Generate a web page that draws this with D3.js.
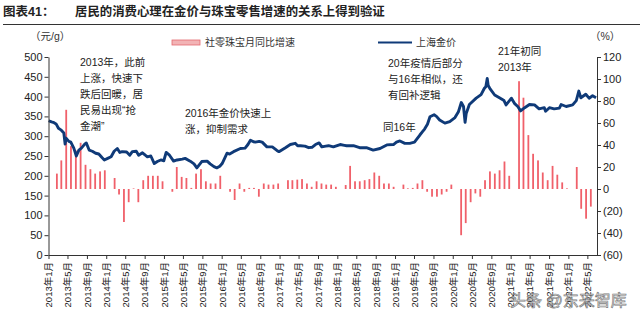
<!DOCTYPE html>
<html><head><meta charset="utf-8">
<script src="https://cdn.jsdelivr.net/npm/d3@7"></script>
<style>
html,body{margin:0;padding:0;background:#fff;}
svg{display:block;}
text{font-family:"Liberation Sans","Noto Sans CJK SC",sans-serif;}
</style></head>
<body>
<svg id="c" width="640" height="322"></svg>
<script>
// ---------- data ----------
const barMonths = [
"2013-02","2013-03","2013-04","2013-05","2013-06","2013-07","2013-08","2013-09","2013-10","2013-11","2013-12",
"2014-02","2014-03","2014-04","2014-05","2014-06","2014-07","2014-08","2014-09","2014-10","2014-11","2014-12",
"2015-02","2015-03","2015-04","2015-05","2015-06","2015-07","2015-08","2015-09","2015-10","2015-11","2015-12",
"2016-02","2016-03","2016-04","2016-05","2016-06","2016-07","2016-08","2016-09","2016-10","2016-11","2016-12",
"2017-02","2017-03","2017-04","2017-05","2017-06","2017-07","2017-08","2017-09","2017-10","2017-11","2017-12",
"2018-02","2018-03","2018-04","2018-05","2018-06","2018-07","2018-08","2018-09","2018-10","2018-11","2018-12",
"2019-02","2019-03","2019-04","2019-05","2019-06","2019-07","2019-08","2019-09","2019-10","2019-11","2019-12",
"2020-02","2020-03","2020-04","2020-05","2020-06","2020-07","2020-08","2020-09","2020-10","2020-11","2020-12",
"2021-02","2021-03","2021-04","2021-05","2021-06","2021-07","2021-08","2021-09","2021-10","2021-11","2021-12",
"2022-02","2022-03","2022-04","2022-05"];
const jewelryYoY = [
14,26,72,39,35,42,22,18,14,16,17,
10,-5,-30,-12,0.5,-12,8,12,12,12,7,
-2.5,20,11,10,1,14,18,7,5,5,12,
-2.5,-10,5,-2.5,1,1,-7,5,4,4,5,
8,8,8.5,9,5,2,7,5,4,4,2,
3.6,21,7,7,8,9,15,12,5,5,2,
4,0.6,1,5,8,-2.5,-7,-7,-5,-2.5,4,
-42,-31,-12,-4,-7,8,16,14,17,25,12,
98,83,49,32,26,15,8,21,13,6,0.6,
20,-18,-27,-16];

const goldDates = [
"2013-01-02","2013-01-20","2013-02-05","2013-02-18","2013-03-05","2013-03-20","2013-04-08","2013-04-16","2013-04-22","2013-05-10","2013-05-22","2013-06-10","2013-06-26","2013-07-12","2013-07-28","2013-08-18","2013-08-28","2013-09-15","2013-10-05","2013-10-26","2013-11-15","2013-12-05","2013-12-20",
"2014-01-10","2014-02-01","2014-02-20","2014-03-12","2014-03-28","2014-04-12","2014-05-10","2014-05-30","2014-06-15","2014-07-10","2014-07-25","2014-08-18","2014-09-05","2014-09-18","2014-10-10","2014-11-01","2014-11-20","2014-12-12","2014-12-31",
"2015-01-15","2015-02-05","2015-03-03","2015-03-25","2015-04-27","2015-05-15","2015-06-16","2015-07-10","2015-07-28","2015-08-28","2015-10-01","2015-10-20","2015-11-13","2015-12-01","2015-12-20",
"2016-01-04","2016-02-04","2016-02-20","2016-03-16","2016-04-28","2016-05-28","2016-06-15","2016-07-01","2016-07-20","2016-08-01","2016-08-25","2016-09-13","2016-10-13","2016-11-16","2016-12-15","2016-12-28",
"2017-02-07","2017-03-10","2017-04-10","2017-04-25","2017-05-13","2017-06-10","2017-07-04","2017-07-25","2017-08-16","2017-09-08","2017-09-25","2017-10-20","2017-11-07","2017-12-07",
"2018-01-19","2018-02-15","2018-03-01","2018-04-13","2018-05-22","2018-07-04","2018-08-16","2018-09-28","2018-11-10","2018-12-22",
"2019-01-10","2019-02-01","2019-03-04","2019-04-04","2019-05-04","2019-06-07","2019-06-25","2019-07-07","2019-07-25","2019-08-10","2019-09-05","2019-09-20","2019-10-10","2019-11-12","2019-12-13",
"2020-01-15","2020-02-06","2020-02-24","2020-03-09","2020-03-19","2020-03-26","2020-04-15","2020-05-28","2020-06-28","2020-07-19","2020-07-28","2020-08-06","2020-08-12","2020-08-22","2020-09-22","2020-10-22","2020-11-20","2020-12-03",
"2021-01-06","2021-01-25","2021-02-15","2021-03-05","2021-03-31","2021-04-30","2021-06-01","2021-06-30","2021-08-02","2021-08-10","2021-09-03","2021-10-03","2021-11-05","2021-11-16","2021-12-18",
"2022-01-28","2022-02-20","2022-03-08","2022-03-21","2022-04-21","2022-05-12","2022-06-03","2022-06-25"];
const goldPrice = [
339,336,334,331,320,316,308,280,295,287,285,270,250,265,270,280,283,265,262,257,255,246,240,
244,248,262,269,259,261,260,252,261,262,252,258,252,248,250,231,236,240,238,
259,252,237,240,242,244,237,230,220,236,237,230,223,220,224,
231,257,255,261,269,270,279,290,286,285,287,285,273,273,264,261,
271,279,282,276,276,275,271,272,279,283,273,275,276,273,
279,277,276,276,271,271,265,269,278,279,
285,288,282,282,285,303,312,318,330,349,354,350,341,333,337,
347,362,385,375,335,357,380,396,405,421,425,446,428,421,404,397,390,379,
396,383,375,364,372,380,379,369,372,363,372,369,371,380,375,
379,390,414,397,406,396,402,397];

const leftTicks = [0,50,100,150,200,250,300,350,400,450,500];
const rightTicks = [-60,-40,-20,0,20,40,60,80,100,120];

// ---------- layout ----------
const svg = d3.select("#c");
const X0 = 48.5, X1 = 597, YB = 255, YT = 57;
const parse = d3.timeParse("%Y-%m-%d");
const x = d3.scaleTime().domain([new Date(2013,0,1), new Date(2022,6,1)]).range([X0, X1]);
const yL = d3.scaleLinear().domain([0,500]).range([YB, YT]);
const yR = d3.scaleLinear().domain([-60,120]).range([YB, YT]);

// title
svg.append("text").attr("x",3).attr("y",16).attr("font-size",12.5).attr("font-weight","bold").attr("fill","#222").text("图表41：");
svg.append("text").attr("x",75).attr("y",16).attr("font-size",12.4).attr("font-weight","bold").attr("fill","#222").text("居民的消费心理在金价与珠宝零售增速的关系上得到验证");
svg.append("line").attr("x1",3).attr("x2",640).attr("y1",24.5).attr("y2",24.5).attr("stroke","#333").attr("stroke-width",1.2);

// unit labels
svg.append("text").attr("x",30).attr("y",40).attr("font-size",10.5).attr("fill","#333").text("（元/g）");
svg.append("text").attr("x",590).attr("y",40).attr("font-size",10.5).attr("fill","#333").text("（%）");

// legend
svg.append("rect").attr("x",172).attr("y",40).attr("width",28).attr("height",5).attr("fill","#f2b3b5").attr("stroke","#e46a70").attr("stroke-width",0.8);
svg.append("text").attr("x",205).attr("y",46).attr("font-size",10).attr("fill","#333").text("社零珠宝月同比增速");
svg.append("line").attr("x1",378).attr("x2",412).attr("y1",42.5).attr("y2",42.5).attr("stroke","#0f3a78").attr("stroke-width",2.2);
svg.append("text").attr("x",416).attr("y",46).attr("font-size",10).attr("fill","#333").text("上海金价");

// bars
const bars = barMonths.map((m,i)=>({d: parse(m+"-23"), v: jewelryYoY[i]}));
svg.append("g").selectAll("rect").data(bars).join("rect")
  .attr("x", d=>x(d.d)-0.9).attr("width",1.8)
  .attr("y", d=>Math.min(yR(d.v), yR(0)))
  .attr("height", d=>Math.abs(yR(d.v)-yR(0)))
  .attr("fill","#f0606a");

// gold line
const gold = goldDates.map((d,i)=>({d: parse(d), v: goldPrice[i]}));
svg.append("path").datum(gold)
  .attr("d", d3.line().x(d=>x(d.d)).y(d=>yL(d.v)))
  .attr("fill","none").attr("stroke","#0f3a78").attr("stroke-width",2.9).attr("stroke-linejoin","round");

// axes
const axL = svg.append("g").attr("transform",`translate(${X0},0)`)
  .call(d3.axisLeft(yL).tickValues(leftTicks).tickSize(4).tickSizeOuter(0));
const axR = svg.append("g").attr("transform",`translate(${X1},0)`)
  .call(d3.axisRight(yR).tickValues(rightTicks).tickSize(4).tickSizeOuter(0)
    .tickFormat(v=> v<0 ? "("+Math.abs(v)+")" : String(v)));
const xTicks = d3.timeMonth.range(new Date(2013,0,1), new Date(2022,5,2), 4);
const axB = svg.append("g").attr("transform",`translate(0,${YB})`)
  .call(d3.axisBottom(x).tickValues(xTicks).tickSize(4).tickSizeOuter(0)
    .tickFormat(d=>d.getFullYear()+"年"+(d.getMonth()+1)+"月"));
[axL,axR,axB].forEach(a=>{
  a.selectAll(".domain").attr("stroke","#333");
  a.selectAll(".tick line").attr("stroke","#333");
  a.selectAll("text").attr("fill","#222").attr("font-family","Liberation Sans, Noto Sans CJK SC, sans-serif");
});
axL.selectAll("text").attr("font-size",11).attr("x",-6);
axR.selectAll("text").attr("font-size",11).attr("x",6);
axB.selectAll("text").attr("font-size",9.5)
  .attr("transform","rotate(-90)").attr("text-anchor","end")
  .attr("x",-7).attr("y",0).attr("dy","0.35em");

// annotations
const ann = [
  {x:80, y:66, lines:["2013年，此前","上涨，快速下","跌后回暖，居","民易出现“抢","金潮”"]},
  {x:185, y:117, lines:["2016年金价快速上","涨，抑制需求"]},
  {x:388, y:67, lines:["20年疫情后部分","与16年相似，还","有回补逻辑"]},
  {x:383, y:131, lines:["同16年"]},
  {x:498, y:55, lines:["21年初同","2013年"]}
];
ann.forEach(a=>{
  const t = svg.append("text").attr("x",a.x).attr("y",a.y).attr("font-size",10.5).attr("fill","#222");
  a.lines.forEach((l,i)=>t.append("tspan").attr("x",a.x).attr("dy", i?16:0).text(l));
});

// watermark
svg.append("text").attr("x",510).attr("y",306).attr("font-size",16).attr("fill","#fff")
  .attr("stroke","#666").attr("stroke-width",0.7).attr("opacity",0.85).text("头条 @东来智库");
</script>
</body></html>
